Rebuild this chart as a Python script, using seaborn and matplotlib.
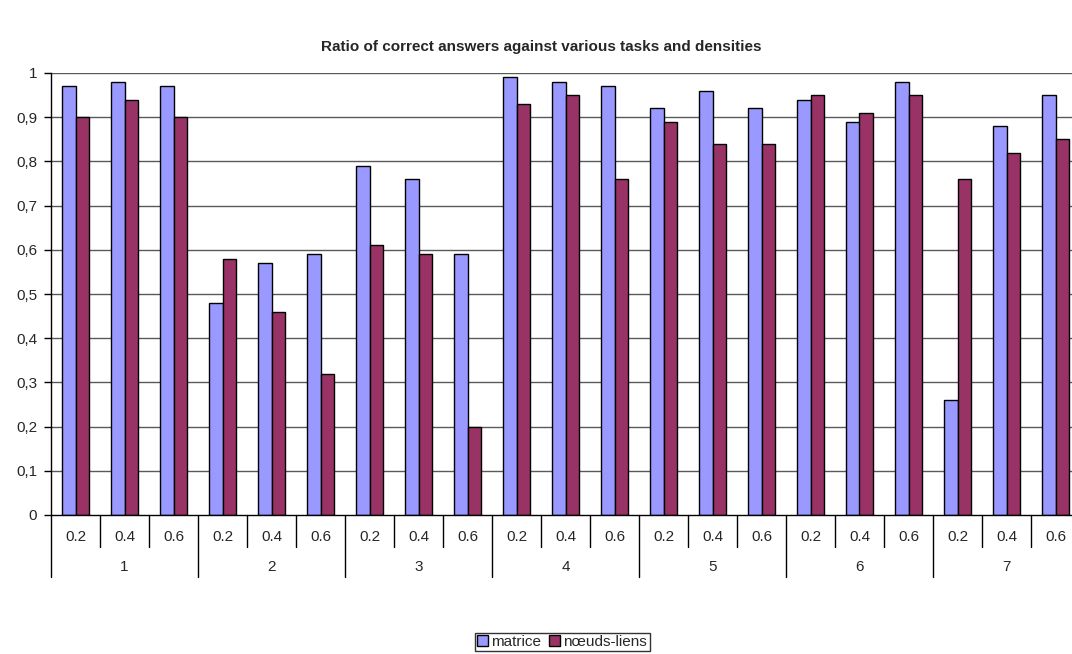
import numpy as np
import pandas as pd
import matplotlib
matplotlib.use("Agg")
import matplotlib.pyplot as plt
import matplotlib.transforms as mtransforms
from matplotlib.patches import Patch
import seaborn as sns

# ---- data -------------------------------------------------------------
tasks = ["1", "2", "3", "4", "5", "6", "7"]
densities = ["0.2", "0.4", "0.6"]
series_names = ["matrice", "nœuds-liens"]

matrice = [0.97, 0.98, 0.97,
           0.48, 0.57, 0.59,
           0.79, 0.76, 0.59,
           0.99, 0.98, 0.97,
           0.92, 0.96, 0.92,
           0.94, 0.89, 0.98,
           0.26, 0.88, 0.95]
noeuds_liens = [0.90, 0.94, 0.90,
                0.58, 0.46, 0.32,
                0.61, 0.59, 0.20,
                0.93, 0.95, 0.76,
                0.89, 0.84, 0.84,
                0.95, 0.91, 0.95,
                0.76, 0.82, 0.85]
y_ticks = [0, 0.1, 0.2, 0.3, 0.4, 0.5, 0.6, 0.7, 0.8, 0.9, 1.0]
y_tick_labels = ["0", "0,1", "0,2", "0,3", "0,4", "0,5", "0,6", "0,7", "0,8", "0,9", "1"]
colors = ["#9999FF", "#993366"]

# ---- long-form table --------------------------------------------------
cats = [f"{t}-{d}" for t in tasks for d in densities]
df = pd.DataFrame({
    "cat": cats * 2,
    "value": matrice + noeuds_liens,
    "series": [series_names[0]] * len(cats) + [series_names[1]] * len(cats),
})

sns.set_style("white")
plt.rcParams["font.family"] = ["Liberation Sans", "DejaVu Sans"]
FS = 11

W, H = 1072, 654
fig = plt.figure(figsize=(W / 100, H / 100), dpi=100)
left, right, top, bottom = 51, 1080, 73, 515
ax = fig.add_axes([left / W, 1 - bottom / H, (right - left) / W, (bottom - top) / H])

sns.barplot(data=df, x="cat", y="value", hue="series", order=cats,
            hue_order=series_names, palette=colors, width=0.57,
            edgecolor="black", linewidth=1.0, saturation=1, legend=False, ax=ax)

n = len(cats)
ax.set_xlim(-0.5, n - 0.5)
ax.set_ylim(0, 1)
ax.set_xlabel("")
ax.set_ylabel("")

# horizontal gridlines
ax.set_axisbelow(True)
for yv in y_ticks[1:]:
    ax.axhline(yv, color="#5a5a5a", lw=1.0, zorder=0)

for s in ["top", "right"]:
    ax.spines[s].set_visible(False)
ax.spines["left"].set_color("black")
ax.spines["bottom"].set_color("black")
ax.spines["left"].set_linewidth(1.0)
ax.spines["bottom"].set_linewidth(1.0)

ax.set_yticks(y_ticks)
ax.set_yticklabels(y_tick_labels, fontsize=FS)
ax.tick_params(axis="y", direction="out", length=5, width=1, color="black", pad=5, left=True)

# two-level category axis: densities, then tasks
ax.set_xticks([])
trans = mtransforms.blended_transform_factory(ax.transData, ax.transAxes)
plot_h = bottom - top
short = -32 / plot_h
long_ = -62 / plot_h
for i in range(n + 1):
    xb = i - 0.5
    yl = long_ if i % 3 == 0 else short
    ax.plot([xb, xb], [0, yl], transform=trans, color="black", lw=1.0, clip_on=False)
for i, c in enumerate(cats):
    ax.text(i, -22 / plot_h, c.split("-")[1], transform=trans, ha="center", va="center", fontsize=FS)
for g, t in enumerate(tasks):
    ax.text(g * 3 + 1, -52 / plot_h, t, transform=trans, ha="center", va="center", fontsize=FS)

fig.text(541 / W, 1 - 47 / H, "Ratio of correct answers against various tasks and densities",
         ha="center", va="center", fontsize=FS, fontweight="bold")

handles = [Patch(facecolor=colors[k], edgecolor="black", lw=1.0) for k in range(2)]
leg = fig.legend(handles, series_names, loc="center", bbox_to_anchor=(562 / W, 1 - 642 / H),
                 ncol=2, fontsize=FS, frameon=True, fancybox=False, handlelength=0.75,
                 handleheight=0.75, handletextpad=0.2, columnspacing=0.5, borderpad=0.15,
                 borderaxespad=0)
leg.get_frame().set_edgecolor("black")
leg.get_frame().set_linewidth(1.0)

fig.savefig("out.png", dpi=100)
